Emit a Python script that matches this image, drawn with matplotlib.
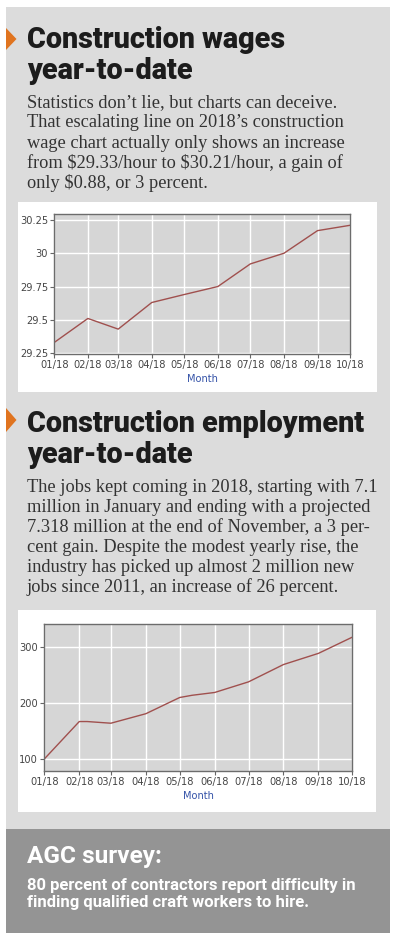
# infografico: salarios e emprego na construcao, ano de 2018
# recria o painel com dois graficos de linha e o quadro do inquerito AGC
# execucao: python3 plot.py

from datetime import date

import matplotlib
matplotlib.use("Agg")
import matplotlib.dates as mdates
import matplotlib.pyplot as plt
from matplotlib.patches import Polygon, Rectangle

LARGURA_PX = 400
ALTURA_PX = 941
DPI = 100

# dados
MESES = ["2018-01-01", "2018-02-01", "2018-03-01", "2018-04-01", "2018-05-01",
         "2018-06-01", "2018-07-01", "2018-08-01", "2018-09-01", "2018-10-01"]
ROTULOS_MESES = ["01/18", "02/18", "03/18", "04/18", "05/18",
                 "06/18", "07/18", "08/18", "09/18", "10/18"]

SALARIOS = [29.33, 29.51, 29.43, 29.63, 29.69, 29.75, 29.92, 30.00, 30.17, 30.21]
TICKS_SALARIOS = [29.25, 29.5, 29.75, 30.0, 30.25]
ROTULOS_SALARIOS = ["29.25", "29.5", "29.75", "30", "30.25"]

DATAS_EMPREGO = ["2018-01-01", "2018-02-01", "2018-02-08", "2018-03-01",
                 "2018-04-01", "2018-05-01", "2018-05-12", "2018-06-01",
                 "2018-07-01", "2018-08-01", "2018-09-01", "2018-10-01"]
EMPREGO = [100, 167, 167, 164, 181, 210, 214, 219, 238, 269, 289, 318]
TICKS_EMPREGO = [100, 200, 300]

TITULO_1 = ["Construction wages", "year-to-date"]
TEXTO_1 = [
  "Statistics don\u2019t lie, but charts can deceive.",
  "That escalating line on 2018\u2019s construction",
  "wage chart actually only shows an increase",
  "from $29.33/hour to $30.21/hour, a gain of",
  "only $0.88, or 3 percent.",
]
TITULO_2 = ["Construction employment", "year-to-date"]
TEXTO_2 = [
  "The jobs kept coming in 2018, starting with 7.1",
  "million in January and ending with a projected",
  "7.318 million at the end of November, a 3 per-",
  "cent gain. Despite the modest yearly rise, the",
  "industry has picked up almost 2 million new",
  "jobs since 2011, an increase of 26 percent.",
]
TITULO_3 = "AGC survey:"
TEXTO_3 = [
  "80 percent of contractors report difficulty in",
  "finding qualified craft workers to hire.",
]

CINZA_CLARO = "#dcdcdc"
CINZA_ESCURO = "#949494"
LARANJA = "#e0741f"
COR_LINHA = "#a0504e"
COR_TEXTO = "#333333"
TAMANHO_TICKS = 7.1


def fx(x: float) -> float:
  return x / LARGURA_PX


def fy(y: float) -> float:
  return 1 - y / ALTURA_PX


def para_datas(lista):
  return mdates.date2num([date.fromisoformat(s) for s in lista])


def retangulo(fig, x0, y0, x1, y1, cor):
  fig.add_artist(Rectangle((fx(x0), fy(y1)), (x1 - x0) / LARGURA_PX,
                           (y1 - y0) / ALTURA_PX, transform=fig.transFigure,
                           facecolor=cor, edgecolor="none", zorder=-1))


def seta(fig, topo, base):
  meio = (topo + base) / 2
  fig.add_artist(Polygon([(fx(6), fy(topo)), (fx(16.5), fy(meio)),
                          (fx(6), fy(base))], closed=True,
                         transform=fig.transFigure, facecolor=LARANJA,
                         edgecolor="none"))


def tamanho_para(fig, s, largura, **kw):
  """Devolve o tamanho de letra que faz s ocupar largura pixeis."""
  t = fig.text(0, 0, s, fontsize=10, parse_math=False, **kw)
  w = t.get_window_extent(fig.canvas.get_renderer()).width
  t.remove()
  return 10 * largura / w


def escrever(fig, x, y, s, **kw):
  # parse_math=False: os "$" do texto sao cifroes, nao mathtext
  fig.text(fx(x), fy(y), s, ha="left", va="baseline", parse_math=False, **kw)


def eixos(fig, esq, topo, dir, base):
  ax = fig.add_axes([fx(esq), fy(base), (dir - esq) / LARGURA_PX,
                     (base - topo) / ALTURA_PX])
  ax.set_facecolor("#d6d6d6")
  for sp in ax.spines.values():
    sp.set_color("#6c6c6c")
    sp.set_linewidth(1.0)
  ax.grid(True, color="white", linewidth=1.0)
  ax.set_axisbelow(True)
  ax.tick_params(direction="out", length=3, width=0.8, color="#666666",
                 labelsize=TAMANHO_TICKS, labelcolor="#454545", pad=1.5)
  meses = para_datas(MESES)
  ax.set_xticks(meses)
  ax.set_xticklabels(ROTULOS_MESES)
  ax.set_xlim(meses[0], meses[-1])
  ax.set_xlabel("Month", color="#3553a8", fontsize=TAMANHO_TICKS, labelpad=2.5)
  return ax


def main() -> None:
  fig = plt.figure(figsize=(LARGURA_PX / DPI, ALTURA_PX / DPI), dpi=DPI)
  fig.patch.set_facecolor("white")

  # fundos
  retangulo(fig, 6, 7, 390, 829, CINZA_CLARO)
  retangulo(fig, 6, 829, 390, 933, CINZA_ESCURO)
  retangulo(fig, 18, 202, 377, 392, "white")
  retangulo(fig, 18, 610, 376, 812, "white")

  fonte_titulo = dict(family="Roboto", fontweight="heavy", color="#1c1c1c")
  t_titulo = tamanho_para(fig, TITULO_1[0], 258, **fonte_titulo)
  fonte_corpo = dict(family="Liberation Serif", color=COR_TEXTO)
  t_corpo = tamanho_para(fig, TEXTO_1[0], 310, **fonte_corpo)

  # secao 1
  seta(fig, 28, 50)
  escrever(fig, 27, 48, TITULO_1[0], fontsize=t_titulo, **fonte_titulo)
  escrever(fig, 27, 79, TITULO_1[1], fontsize=t_titulo, **fonte_titulo)
  for i, linha in enumerate(TEXTO_1):
    escrever(fig, 27, 107 + 20.3 * i, linha, fontsize=t_corpo, **fonte_corpo)

  ax1 = eixos(fig, 54.3, 214, 350, 354)
  ax1.plot(para_datas(MESES), SALARIOS, color=COR_LINHA, linewidth=1.0)
  ax1.set_yticks(TICKS_SALARIOS)
  ax1.set_yticklabels(ROTULOS_SALARIOS)
  ax1.set_ylim(29.243, 30.295)

  # secao 2
  seta(fig, 408, 432)
  escrever(fig, 27, 432, TITULO_2[0], fontsize=t_titulo, **fonte_titulo)
  escrever(fig, 27, 463, TITULO_2[1], fontsize=t_titulo, **fonte_titulo)
  for i, linha in enumerate(TEXTO_2):
    escrever(fig, 27, 491.7 + 20 * i, linha, fontsize=t_corpo, **fonte_corpo)

  ax2 = eixos(fig, 44.3, 624.3, 352.3, 771)
  ax2.plot(para_datas(DATAS_EMPREGO), EMPREGO, color=COR_LINHA, linewidth=1.0)
  ax2.set_yticks(TICKS_EMPREGO)
  ax2.set_yticklabels([str(v) for v in TICKS_EMPREGO])
  ax2.set_ylim(78.5, 341)

  # quadro do inquerito
  fonte_agc = dict(family="Roboto", fontweight="bold", color="white")
  t_agc = tamanho_para(fig, TITULO_3, 135, **fonte_agc)
  escrever(fig, 27, 863, TITULO_3, fontsize=t_agc, **fonte_agc)
  fonte_nota = dict(family="Roboto", fontweight="bold", color="white")
  t_nota = tamanho_para(fig, TEXTO_3[0], 330, **fonte_nota)
  for i, linha in enumerate(TEXTO_3):
    escrever(fig, 27, 890 + 17.5 * i, linha, fontsize=t_nota, **fonte_nota)

  fig.savefig("out.png", dpi=DPI, facecolor="white")
  plt.close(fig)


if __name__ == "__main__":
  main()
